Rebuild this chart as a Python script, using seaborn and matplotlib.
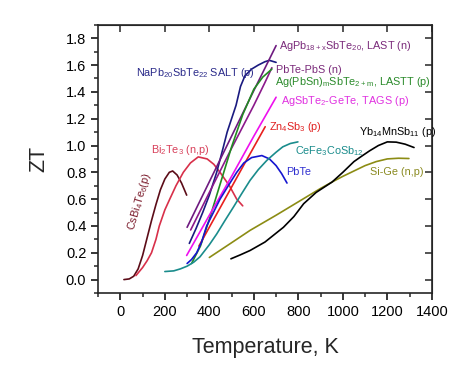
import matplotlib
matplotlib.use("Agg")
import matplotlib.pyplot as plt
from matplotlib.ticker import MultipleLocator
import seaborn as sns

# ---- data (T in K, ZT) ----
csbi_T = [16, 40, 60, 80, 100, 120, 140, 160, 180, 200, 220, 235, 255, 275, 298]
csbi_zt = [0.0, 0.005, 0.025, 0.08, 0.18, 0.31, 0.44, 0.56, 0.67, 0.75, 0.80, 0.81, 0.78, 0.72, 0.63]

bite_T = [70, 100, 120, 140, 160, 175, 200, 222, 250, 283, 315, 350, 390, 420, 448, 490, 523, 550]
bite_zt = [0.03, 0.09, 0.14, 0.2, 0.3, 0.4, 0.52, 0.6, 0.7, 0.8, 0.87, 0.915, 0.9, 0.86, 0.8, 0.7, 0.6, 0.55]

salt_T = [310, 340, 370, 400, 433, 460, 480, 500, 520, 540, 560, 590, 620, 650, 670, 700]
salt_zt = [0.27, 0.38, 0.5, 0.63, 0.8, 0.97, 1.1, 1.2, 1.3, 1.44, 1.52, 1.57, 1.6, 1.625, 1.635, 1.62]

last_T = [300, 400, 500, 600, 700]
last_zt = [0.39, 0.73, 1.07, 1.41, 1.745]

pbs_T = [316, 400, 500, 600, 650, 681]
pbs_zt = [0.37, 0.65, 0.98, 1.3, 1.47, 1.58]

lastt_T = [320, 360, 400, 450, 500, 550, 600, 640, 681]
lastt_zt = [0.12, 0.25, 0.45, 0.72, 0.99, 1.23, 1.42, 1.51, 1.57]

tags_T = [298, 400, 500, 600, 700]
tags_zt = [0.18, 0.48, 0.77, 1.07, 1.36]

zn_T = [353, 450, 550, 651]
zn_zt = [0.25, 0.54, 0.84, 1.14]

pbte_T = [300, 320, 343, 365, 388, 418, 448, 485, 523, 555, 590, 636, 670, 700, 725, 749]
pbte_zt = [0.12, 0.15, 0.2, 0.28, 0.4, 0.5, 0.6, 0.7, 0.8, 0.87, 0.91, 0.925, 0.9, 0.85, 0.79, 0.72]

cefe_T = [200, 240, 270, 300, 330, 358, 400, 433, 470, 508, 545, 583, 620, 659, 700, 730, 764, 798]
cefe_zt = [0.06, 0.065, 0.08, 0.1, 0.13, 0.17, 0.26, 0.34, 0.44, 0.54, 0.64, 0.74, 0.82, 0.89, 0.95, 0.99, 1.015, 1.027]

sige_T = [400, 500, 583, 700, 800, 900, 952, 1000, 1050, 1100, 1150, 1200, 1250, 1297]
sige_zt = [0.165, 0.275, 0.367, 0.48, 0.58, 0.68, 0.728, 0.77, 0.81, 0.85, 0.88, 0.9, 0.905, 0.903]

yb_T = [497, 540, 583, 650, 733, 780, 824, 880, 952, 1000, 1050, 1080, 1120, 1160, 1200, 1240, 1280, 1320]
yb_zt = [0.155, 0.185, 0.217, 0.28, 0.39, 0.47, 0.566, 0.65, 0.728, 0.8, 0.88, 0.915, 0.96, 1.0, 1.027, 1.025, 1.01, 0.985]

# (T, ZT, line colour, label, label T, label ZT, rotation, text colour)
series = [
    (csbi_T, csbi_zt, "#5c0c18", r"CsBi$_4$Te$_6$(p)", 88, 0.58, 74, "#7a1a2a"),
    (bite_T, bite_zt, "#d8304a", r"Bi$_2$Te$_3$ (n,p)", 137, 0.965, 0, "#d8405a"),
    (salt_T, salt_zt, "#1a1a80", r"NaPb$_{20}$SbTe$_{22}$ SALT (p)", 69, 1.54, 0, "#2a2a8a"),
    (last_T, last_zt, "#6e1a80", r"AgPb$_{18+x}$SbTe$_{20}$, LAST (n)", 711, 1.745, 0, "#7a2a7a"),
    (pbs_T, pbs_zt, "#8b1a8b", "PbTe-PbS (n)", 700, 1.565, 0, "#7a2a7a"),
    (lastt_T, lastt_zt, "#228b22", r"Ag(PbSn)$_m$SbTe$_{2+m}$, LASTT (p)", 696, 1.475, 0, "#2a8a2a"),
    (tags_T, tags_zt, "#ee10ee", r"AgSbTe$_2$-GeTe, TAGS (p)", 723, 1.33, 0, "#e030e0"),
    (zn_T, zn_zt, "#e8201e", r"Zn$_4$Sb$_3$ (p)", 670, 1.14, 0, "#e02020"),
    (pbte_T, pbte_zt, "#1515d0", "PbTe", 746, 0.80, 0, "#3030d0"),
    (cefe_T, cefe_zt, "#1a8c8c", r"CeFe$_3$CoSb$_{12}$", 783, 0.96, 0, "#1a8c8c"),
    (sige_T, sige_zt, "#8c8c14", "Si-Ge (n,p)", 1122, 0.80, 0, "#8a8a20"),
    (yb_T, yb_zt, "#000000", r"Yb$_{14}$MnSb$_{11}$ (p)", 1072, 1.10, 0, "#000000"),
]

sns.set_style("ticks")
plt.rcParams["font.family"] = ["Liberation Sans", "DejaVu Sans"]
plt.rcParams["mathtext.default"] = "regular"

fig = plt.figure(figsize=(4.74, 3.82), dpi=100)
ax = fig.add_axes([0.207, 0.233, 0.704, 0.702])

for T, zt, col, lab, lx, ly, rot, tcol in series:
    sns.lineplot(x=T, y=zt, ax=ax, color=col, lw=1.2, sort=False, estimator=None)
    ax.text(lx, ly, lab, color=tcol, fontsize=7.8, ha="left" if rot == 0 else "center",
            va="center", rotation=rot)

ax.set_xlim(-100, 1400)
ax.set_ylim(-0.1, 1.9)
ax.xaxis.set_minor_locator(MultipleLocator(100))
ax.yaxis.set_minor_locator(MultipleLocator(0.1))
ax.set_xticks(range(0, 1401, 200))
ax.set_yticks([i * 0.2 for i in range(10)])
ax.set_yticklabels([f"{i * 0.2:.1f}" for i in range(10)])
ax.tick_params(which="major", direction="out", length=5, width=1.1, labelsize=10.5, colors="black")
ax.tick_params(which="minor", direction="out", length=3, width=1.1)
for s in ax.spines.values():
    s.set_linewidth(1.2)
    s.set_visible(True)

# inward ticks on top and right
top = ax.secondary_xaxis("top")
top.set_xticks(range(0, 1401, 200))
top.tick_params(direction="in", length=5, width=1.1, labeltop=False)
right = ax.secondary_yaxis("right")
right.set_yticks([i * 0.2 for i in range(10)])
right.tick_params(direction="in", length=5, width=1.1, labelright=False)

ax.set_xlabel("Temperature, K", fontsize=15.5, labelpad=13)
ax.set_ylabel("ZT", fontsize=15.5, labelpad=12)

fig.savefig("out.png", dpi=100)
